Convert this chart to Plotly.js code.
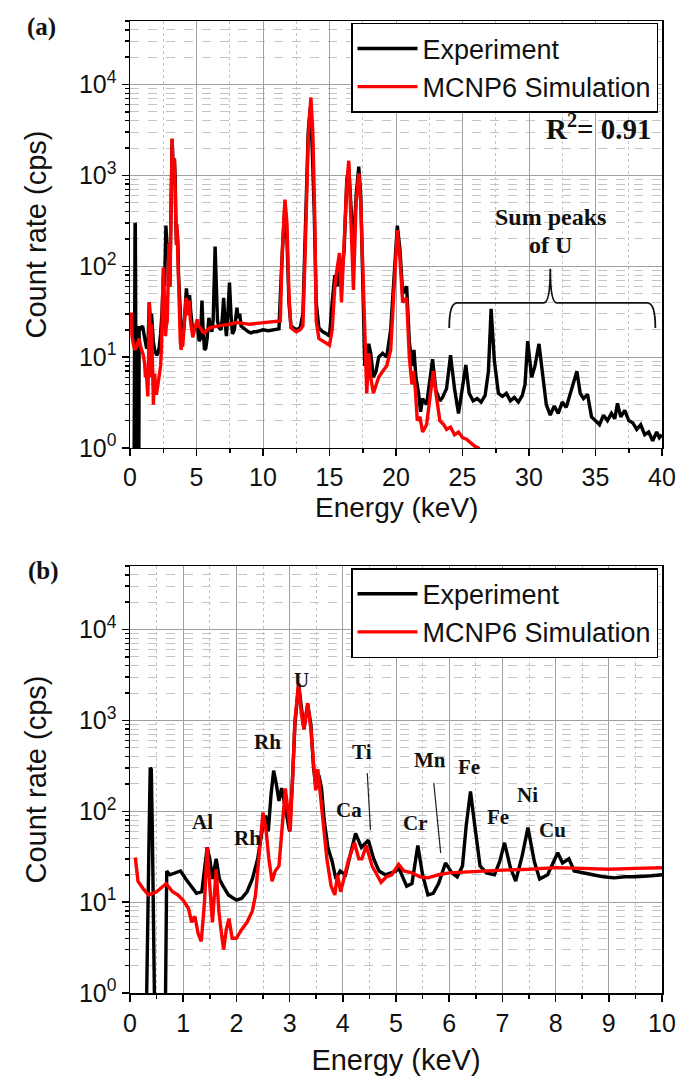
<!DOCTYPE html>
<html>
<head>
<meta charset="utf-8">
<script src="https://cdn.plot.ly/plotly-3.0.1.min.js"></script>
<style>html,body{margin:0;padding:0;background:#fff;}#chart{width:678px;height:1076px;}</style>
</head>
<body>
<div id="chart"></div>
<script>
// ---------- DATA ----------
const energyExp = [0.30,0.33,0.36,0.38,0.40,0.42,0.45,0.47,0.66,0.69,0.75,0.85,0.95,1.05,1.15,1.25,1.35,1.45,1.50,1.55,1.62,1.68,1.75,1.85,2.00,2.10,2.20,2.30,2.40,2.50,2.55,2.60,2.65,2.70,2.75,2.80,2.85,2.90,2.95,3.00,3.05,3.10,3.17,3.22,3.27,3.34,3.40,3.45,3.50,3.55,3.60,3.65,3.72,3.80,3.87,3.95,4.05,4.15,4.24,4.35,4.48,4.58,4.68,4.80,4.90,5.00,5.05,5.20,5.30,5.41,5.50,5.60,5.70,5.80,5.93,6.05,6.15,6.25,6.32,6.40,6.48,6.58,6.70,6.85,6.95,7.04,7.15,7.25,7.37,7.48,7.60,7.70,7.85,8.04,8.13,8.25,8.35,8.50,8.70,8.90,9.10,9.30,9.50,9.80,10.0,10.4,10.8,11.2,11.4,11.65,11.8,11.95,12.1,12.5,12.8,13.0,13.2,13.4,13.55,13.7,13.85,14.0,14.2,14.5,14.8,15.0,15.2,15.4,15.6,15.75,15.9,16.1,16.3,16.45,16.6,16.8,17.0,17.2,17.35,17.5,17.65,17.8,17.95,18.1,18.3,18.5,18.7,19.0,19.3,19.6,19.9,20.1,20.3,20.5,20.8,21.0,21.2,21.35,21.5,21.7,21.85,22.0,22.3,22.5,22.75,23.0,23.3,23.5,23.8,24.1,24.4,24.7,25.0,25.25,25.5,25.8,26.1,26.4,26.7,26.95,27.15,27.4,27.7,28.0,28.3,28.6,28.9,29.2,29.5,29.7,29.9,30.2,30.45,30.75,31.05,31.3,31.6,31.9,32.2,32.5,32.8,33.1,33.35,33.6,33.85,34.1,34.4,34.7,35.0,35.3,35.6,35.9,36.2,36.45,36.65,36.9,37.2,37.5,37.8,38.1,38.4,38.7,39.0,39.3,39.6,39.8,40.0];
const countExp = [0.3,10,60,300,290,60,5,0.3,0.3,22,20,21,22,18,15,12.5,13,40,30,18,30,18,15,12,10.5,11,13,18,30,70,90,60,150,280,200,130,180,120,80,60,200,900,2500,1500,800,1500,900,300,180,250,180,80,40,28,18,22,20,35,57,40,48,30,22,20,21,22,24,15,16,42,20,12,12.5,16,27,21,19,25,70,165,70,25,21,20,28,45,24,17,32,66,28,18,20,35,27,30,22,21,20,19,18.5,19,19,19.5,20,19.5,20,20.5,100,500,200,40,22,20,21,30,300,3000,5600,2000,400,40,21,19,18,17,40,80,60,120,80,150,900,1200,500,150,600,1250,600,100,8,10,14,11,6,7,10,11,10,20,100,280,150,50,60,15,8,12,6,4,2.5,3.5,3,5,9.5,4.3,3.3,3.6,4.5,10.5,4.5,2.4,5,8.2,4,3.3,3.5,3.2,3.8,7,34,9,4,3.7,4,3.3,3.6,3.2,3.8,5,15,6,8,14,6,3,2.3,2.9,2.4,3.2,2.8,4,5,7,4,3.5,3.9,2.2,2,1.8,2.3,2,2.4,2.1,3.1,2.2,2.6,2,1.9,1.6,1.8,1.4,1.5,1.2,1.5,1.3,1.4];

const energySim = [0.10,0.15,0.25,0.35,0.50,0.60,0.68,0.80,0.90,1.00,1.10,1.16,1.22,1.28,1.34,1.40,1.45,1.50,1.55,1.62,1.67,1.71,1.76,1.81,1.86,1.92,2.00,2.10,2.20,2.30,2.36,2.42,2.50,2.56,2.61,2.67,2.73,2.80,2.86,2.92,2.97,3.01,3.06,3.10,3.17,3.22,3.27,3.34,3.40,3.45,3.49,3.53,3.58,3.64,3.70,3.78,3.85,3.90,3.96,4.02,4.10,4.22,4.30,4.36,4.44,4.55,4.72,4.82,4.92,5.05,5.15,5.30,5.45,5.60,5.80,6.00,6.30,6.60,7.00,7.50,8.00,8.50,9.00,9.50,10.0,10.5,11.0,11.3,11.45,11.65,11.8,11.95,12.1,12.5,12.8,13.0,13.2,13.4,13.6,13.75,13.9,14.0,14.2,14.5,14.8,15.0,15.2,15.4,15.55,15.75,15.9,16.1,16.3,16.45,16.6,16.8,17.0,17.2,17.35,17.5,17.65,17.8,17.95,18.1,18.3,18.5,18.7,19.0,19.3,19.6,19.9,20.1,20.3,20.5,20.8,21.0,21.2,21.3,21.45,21.6,21.8,22.0,22.3,22.6,22.8,23.0,23.3,23.6,23.8,24.1,24.4,24.7,25.0,25.3,25.6,25.9,26.2,26.3];
const countSim = [31,17,14,12,13,14.5,16,13,12,10.5,8.5,6,7,4.5,3.7,10,40,15,6,23,8,5,3,5,6.6,4,4,5,6,8,12,30,97,60,30,17,22,25,60,178,100,60,250,1000,2550,1200,800,1550,800,300,170,290,150,60,30,15,12,20,13,18,28,45,30,30,42,25,16.5,19,20,26,22,21,19,18.5,20,21,21.5,22,22.5,23,24,23.5,23,23.5,24,24,24.5,25,150,540,300,50,21,19,20,22,200,2500,7200,2900,300,25,16,15,14,13.5,20,60,90,140,40,200,800,1450,400,55,500,1050,500,80,15,4,11,6,4,5,6,7,8,12,80,250,120,40,45,10,5,7,4.5,2,2.2,1.5,1.8,4,7,4,2,1.8,1.6,1.7,1.4,1.5,1.3,1.25,1.15,1.05,1.0,0.9];

const seriesNames = ['Experiment', 'MCNP6 Simulation'];
const yTickVals = [1, 10, 100, 1000, 10000];
const yTickText = ['10<sup>0</sup>', '10<sup>1</sup>', '10<sup>2</sup>', '10<sup>3</sup>', '10<sup>4</sup>'];
const xTitle = 'Energy (keV)';
const yTitle = 'Count rate (cps)';

// ---------- STYLE ----------
const sans = 'Liberation Sans, Arial, sans-serif';
const serif = 'Liberation Serif, Times New Roman, serif';
const minorLog = [];
for (let d = 1; d <= 10000; d *= 10) for (let k = 2; k <= 9; k++) if (k * d <= 50000) minorLog.push(k * d);

function xAxis(range, dtick, anchor, title) {
  return {
    anchor: anchor, range: range, dtick: dtick, tick0: 0,
    showgrid: true, gridcolor: '#a0a0a0', gridwidth: 1,
    ticks: 'outside', ticklen: 7, tickwidth: 1.5, tickcolor: '#000',
    minor: { dtick: dtick / 2, showgrid: true, gridcolor: '#c4c4c4', griddash: 'dot', ticks: 'outside', ticklen: 4, tickcolor: '#000' },
    showline: true, linecolor: '#000', linewidth: 1.5, mirror: true,
    zeroline: false,
    tickfont: { family: sans, size: 25, color: '#111' },
    title: title
  };
}
function yAxis(domain, anchor) {
  return {
    anchor: anchor, domain: domain, type: 'log', range: [0, Math.log10(50000)],
    tickmode: 'array', tickvals: yTickVals, ticktext: yTickText,
    showgrid: true, gridcolor: '#a0a0a0', gridwidth: 1,
    ticks: 'outside', ticklen: 7, tickwidth: 1.5, tickcolor: '#000',
    minor: { tickmode: 'array', tickvals: minorLog, showgrid: true, gridcolor: '#c4c4c4', griddash: 'dash', ticks: 'outside', ticklen: 4, tickcolor: '#000' },
    showline: true, linecolor: '#000', linewidth: 1.5, mirror: true,
    zeroline: false,
    tickfont: { family: sans, size: 25, color: '#111' },
    title: { text: yTitle, font: { family: sans, size: 29, color: '#111' }, standoff: 24 }
  };
}

const traces = [
  { x: energyExp, y: countExp, name: seriesNames[0], xaxis: 'x', yaxis: 'y', mode: 'lines', line: { color: '#000', width: 3.4 }, legend: 'legend' },
  { x: energySim, y: countSim, name: seriesNames[1], xaxis: 'x', yaxis: 'y', mode: 'lines', line: { color: '#f00', width: 3.4 }, legend: 'legend' },
  { x: energyExp, y: countExp, name: seriesNames[0], xaxis: 'x2', yaxis: 'y2', mode: 'lines', line: { color: '#000', width: 3.4 }, legend: 'legend2' },
  { x: energySim, y: countSim, name: seriesNames[1], xaxis: 'x2', yaxis: 'y2', mode: 'lines', line: { color: '#f00', width: 3.4 }, legend: 'legend2' }
];

const legendStyle = {
  xref: 'paper', yref: 'paper', x: 0.9925, xanchor: 'right', yanchor: 'top',
  bgcolor: '#fff', bordercolor: '#000', borderwidth: 1.5,
  font: { family: sans, size: 27, color: '#111' }, tracegroupgap: 0, itemwidth: 60
};

function lab(text, x, y, xref, yref, size) {
  return { text: text, x: x, y: y, xref: xref, yref: yref, showarrow: false,
    font: { family: serif, size: size, color: '#111', weight: 'bold' } };
}

const annotations = [
  lab('<b>(a)</b>', -0.197, 1.010, 'paper', 'paper', 25),
  lab('<b>(b)</b>', -0.195, 0.434, 'paper', 'paper', 25),
  Object.assign(lab('<b>R<sup>2</sup>= 0.91</b>', 0.985, 0.798, 'x domain', 'y domain', 29), { xanchor: 'right' }),
  lab('<b>Sum peaks</b>', 31.6, 0.541, 'x', 'y domain', 24),
  lab('<b>of U</b>', 31.6, 0.475, 'x', 'y domain', 24),
  { text: xTitle, x: 0.5, y: 0.4995, xref: 'paper', yref: 'paper', showarrow: false, yanchor: 'middle',
    font: { family: sans, size: 28, color: '#111' } },
  lab('<b>Al</b>', 1.36, 0.400, 'x2', 'y2 domain', 21),
  lab('<b>Rh</b>', 2.2, 0.330, 'x2', 'y2 domain', 21),
  lab('<b>Rh</b>', 2.58, 0.588, 'x2', 'y2 domain', 21),
  lab('<b>U</b>', 3.22, 0.765, 'x2', 'y2 domain', 21),
  lab('<b>Ti</b>', 4.37, 0.564, 'x2', 'y2 domain', 21),
  lab('<b>Ca</b>', 4.12, 0.429, 'x2', 'y2 domain', 21),
  lab('<b>Cr</b>', 5.37, 0.398, 'x2', 'y2 domain', 21),
  lab('<b>Mn</b>', 5.63, 0.546, 'x2', 'y2 domain', 21),
  lab('<b>Fe</b>', 6.38, 0.529, 'x2', 'y2 domain', 21),
  lab('<b>Fe</b>', 6.91, 0.412, 'x2', 'y2 domain', 21),
  lab('<b>Ni</b>', 7.47, 0.464, 'x2', 'y2 domain', 21),
  lab('<b>Cu</b>', 7.95, 0.382, 'x2', 'y2 domain', 21)
];

const shapes = [
  { type: 'path', xref: 'x', yref: 'y domain',
    path: 'M 24,0.281 Q 24,0.34 24.6,0.34 L 31.1,0.34 Q 31.6,0.34 31.6,0.42 Q 31.6,0.34 32.1,0.34 L 38.9,0.34 Q 39.5,0.34 39.5,0.281',
    line: { color: '#111', width: 1.8 } },
  { type: 'line', xref: 'x2', yref: 'y2 domain', x0: 4.46, y0: 0.515, x1: 4.52, y1: 0.382, line: { color: '#222', width: 1.2 } },
  { type: 'line', xref: 'x2', yref: 'y2 domain', x0: 5.71, y0: 0.492, x1: 5.84, y1: 0.328, line: { color: '#222', width: 1.2 } }
];

const layout = {
  width: 678, height: 1076,
  margin: { l: 130, r: 16, t: 21, b: 83 },
  paper_bgcolor: '#fff', plot_bgcolor: '#fff',
  showlegend: true,
  xaxis: xAxis([0, 40], 5, 'y', { text: '' }),
  yaxis: yAxis([0.5607, 1], 'x'),
  xaxis2: xAxis([0, 10], 1, 'y2', { text: xTitle, font: { family: sans, size: 29, color: '#111' }, standoff: 14 }),
  yaxis2: yAxis([0, 0.4393], 'x2'),
  legend: Object.assign({}, legendStyle, { y: 0.998 }),
  legend2: Object.assign({}, legendStyle, { y: 0.437 }),
  annotations: annotations,
  shapes: shapes
};

Plotly.newPlot('chart', traces, layout, { displayModeBar: false, staticPlot: true });
</script>
</body>
</html>
